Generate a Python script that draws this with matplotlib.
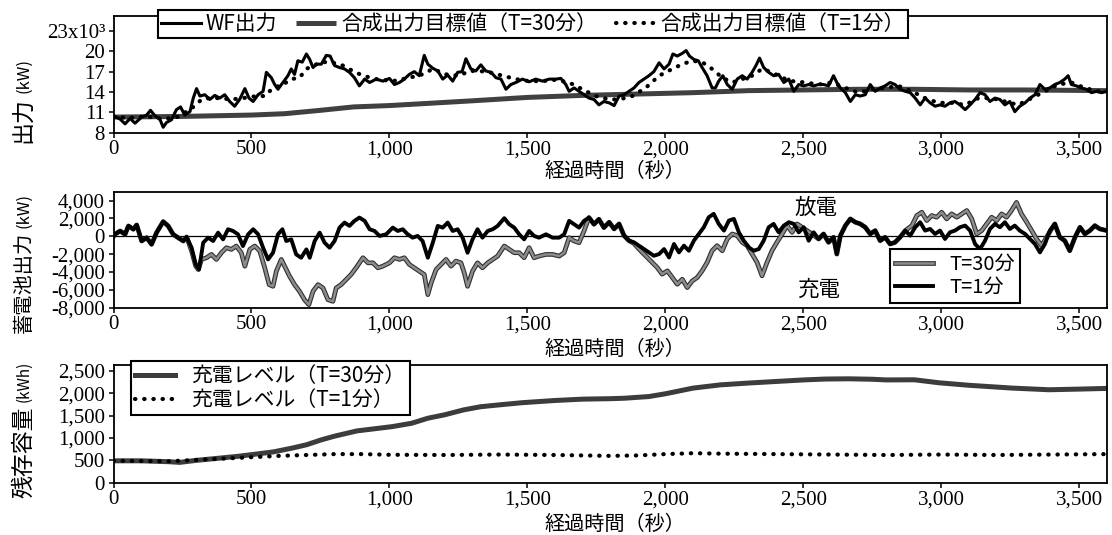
import matplotlib
matplotlib.use("Agg")
import matplotlib.pyplot as plt
import matplotlib.patheffects as pe

JP = ["Noto Sans CJK JP", "DejaVu Sans"]
SERIF = ["Liberation Serif", "DejaVu Serif"]
plt.rcParams["font.family"] = JP

# ---------------- data ----------------
# Wind farm output (x10^3 kW)
wf_t = [0, 24, 42, 60, 78, 102, 120, 134, 150, 168, 180, 192, 210, 228, 243, 258, 277, 289, 301, 313,
        331, 349, 367, 385, 403, 421, 439, 457, 476, 491, 506, 524, 542, 554, 572, 584, 596, 614, 632, 644,
        656, 668, 684, 699, 711, 723, 735, 753, 771, 785, 801, 819, 837, 855, 873, 891, 910, 928, 952, 976,
        1000, 1018, 1036, 1054, 1072, 1090, 1108, 1126, 1139, 1157, 1175, 1193, 1211, 1229, 1247, 1263, 1277, 1295, 1313, 1331,
        1349, 1368, 1386, 1404, 1422, 1440, 1458, 1482, 1506, 1530, 1555, 1579, 1603, 1621, 1639, 1651, 1669, 1687, 1705, 1723,
        1741, 1759, 1777, 1796, 1814, 1832, 1850, 1868, 1886, 1904, 1922, 1940, 1958, 1977, 1995, 2013, 2027, 2043, 2061, 2075,
        2087, 2103, 2119, 2133, 2151, 2169, 2181, 2193, 2208, 2224, 2242, 2260, 2278, 2296, 2314, 2328, 2341, 2356, 2374, 2392,
        2410, 2429, 2447, 2465, 2483, 2501, 2519, 2537, 2555, 2573, 2591, 2609, 2621, 2634, 2652, 2670, 2688, 2706, 2724, 2742,
        2760, 2778, 2796, 2814, 2832, 2850, 2869, 2887, 2905, 2923, 2941, 2959, 2977, 2995, 3013, 3031, 3049, 3067, 3086, 3104,
        3122, 3140, 3158, 3176, 3194, 3212, 3230, 3248, 3266, 3284, 3303, 3321, 3339, 3357, 3375, 3393, 3411, 3429, 3447, 3459,
        3471, 3489, 3507, 3525, 3544, 3562, 3580, 3600]
wf_v = [10.5, 10.0, 9.3, 10.1, 9.4, 10.3, 10.6, 11.3, 10.5, 10.0, 8.8, 9.5, 9.9, 11.4, 11.8, 10.6, 11.1, 13.1, 14.5, 13.4,
        13.6, 12.9, 13.5, 13.1, 13.6, 12.6, 11.9, 12.9, 14.5, 13.1, 12.6, 13.6, 14.1, 16.9, 16.1, 15.1, 14.4, 15.4, 16.4, 17.4,
        16.6, 18.6, 18.4, 19.6, 18.8, 17.6, 18.1, 18.1, 19.4, 19.3, 17.9, 17.6, 17.4, 16.9, 16.1, 14.9, 15.9, 15.4, 15.9, 15.6,
        16.0, 15.1, 15.4, 15.9, 16.6, 17.0, 16.4, 19.4, 18.1, 17.5, 17.1, 15.9, 16.5, 15.6, 16.9, 17.0, 18.9, 17.4, 17.1, 18.0,
        17.1, 16.9, 16.1, 15.9, 14.4, 15.1, 15.4, 15.9, 15.5, 15.9, 15.6, 15.9, 15.9, 16.0, 15.1, 14.1, 14.6, 14.1, 13.6, 13.1,
        12.9, 12.1, 12.6, 12.4, 12.0, 13.4, 13.6, 14.1, 14.6, 15.4, 15.9, 16.4, 17.0, 18.3, 17.4, 18.1, 19.6, 19.3, 19.7, 20.1,
        19.3, 18.8, 18.6, 17.6, 16.4, 14.6, 14.6, 15.6, 16.4, 15.1, 14.4, 15.9, 16.4, 15.9, 16.9, 17.9, 19.0, 17.6, 16.9, 16.4,
        16.6, 15.4, 15.9, 14.1, 15.1, 14.9, 15.1, 14.9, 15.1, 15.1, 14.9, 16.4, 15.4, 14.6, 13.9, 12.6, 13.6, 13.4, 13.6, 15.1,
        14.1, 14.6, 14.9, 15.4, 15.1, 14.4, 14.1, 13.9, 13.1, 12.1, 13.1, 12.4, 11.9, 12.1, 11.9, 12.4, 12.6, 12.1, 11.4, 12.1,
        12.9, 13.9, 13.6, 12.6, 13.1, 12.9, 12.1, 12.6, 11.1, 11.9, 12.4, 13.1, 13.6, 15.1, 14.4, 14.6, 15.1, 15.4, 15.9, 16.4,
        15.1, 14.9, 14.6, 14.4, 13.9, 14.1, 13.9, 14.1]

# Combined output target, T=30 min
tgt30_t = [0, 250, 500, 620, 750, 870, 1000, 1130, 1300, 1500, 1700, 1900, 2100, 2300, 2500, 2700, 2900, 3100, 3300, 3600]
tgt30_v = [10.3, 10.4, 10.6, 10.8, 11.3, 11.8, 12.0, 12.3, 12.7, 13.2, 13.5, 13.7, 13.9, 14.2, 14.3, 14.4, 14.4, 14.3, 14.3, 14.2]

# Combined output target, T=1 min
tgt1_t = [0, 60, 120, 180, 230, 277, 298, 319, 349, 385, 427, 470, 518, 548, 578, 614, 644, 674, 699, 723,
          759, 789, 831, 867, 904, 952, 1012, 1072, 1120, 1157, 1205, 1253, 1289, 1325, 1362, 1410, 1458, 1506, 1555, 1603,
          1651, 1699, 1747, 1796, 1832, 1880, 1928, 1977, 2025, 2061, 2097, 2133, 2169, 2206, 2242, 2278, 2314, 2350, 2386, 2423,
          2459, 2507, 2555, 2603, 2652, 2700, 2748, 2796, 2844, 2893, 2941, 2989, 3037, 3086, 3134, 3182, 3230, 3278, 3327, 3375,
          3423, 3471, 3519, 3568, 3600]
tgt1_v = [10.3, 10.2, 10.4, 10.0, 10.3, 11.4, 12.1, 12.9, 13.1, 13.1, 12.9, 13.1, 13.4, 13.4, 14.6, 15.1, 15.9, 16.1, 17.4, 17.9,
          18.4, 18.4, 17.9, 17.1, 16.4, 15.9, 15.6, 16.1, 16.6, 17.4, 16.6, 16.4, 17.1, 17.1, 16.9, 16.4, 15.9, 15.6, 15.6, 15.8,
          15.4, 14.4, 13.4, 12.9, 12.9, 13.4, 14.6, 16.4, 17.4, 18.1, 18.6, 18.4, 17.4, 16.1, 15.4, 15.9, 16.4, 17.4, 16.9, 16.1,
          15.6, 15.4, 15.1, 15.4, 14.6, 13.9, 14.4, 14.6, 14.9, 14.1, 13.1, 12.4, 12.4, 12.1, 13.1, 13.1, 12.6, 12.1, 13.1, 14.1,
          15.1, 15.4, 14.6, 14.1, 14.1]

# Battery output (kW), T=1 min
bat1_t = [0, 5, 24, 42, 54, 72, 84, 102, 120, 138, 156, 180, 198, 216, 234, 253, 265, 283, 298, 310,
          325, 343, 361, 379, 397, 415, 433, 451, 469, 488, 506, 524, 542, 560, 578, 596, 612, 626, 644, 662,
          680, 699, 711, 729, 747, 765, 783, 801, 819, 837, 855, 873, 891, 910, 928, 946, 964, 988, 1012, 1030,
          1048, 1066, 1084, 1102, 1120, 1139, 1157, 1175, 1193, 1211, 1229, 1247, 1265, 1283, 1301, 1319, 1337, 1356, 1374, 1392,
          1416, 1434, 1452, 1470, 1488, 1506, 1524, 1542, 1567, 1591, 1615, 1633, 1651, 1669, 1687, 1705, 1723, 1741, 1759, 1777,
          1796, 1814, 1832, 1850, 1868, 1886, 1904, 1922, 1940, 1958, 1977, 1995, 2013, 2031, 2049, 2067, 2085, 2103, 2121, 2139,
          2157, 2175, 2193, 2212, 2230, 2248, 2266, 2284, 2302, 2320, 2338, 2356, 2374, 2392, 2410, 2429, 2447, 2465, 2483, 2501,
          2519, 2537, 2555, 2573, 2591, 2609, 2621, 2634, 2652, 2670, 2688, 2706, 2724, 2742, 2760, 2778, 2796, 2814, 2832, 2850,
          2869, 2887, 2905, 2923, 2941, 2959, 2977, 2995, 3013, 3031, 3049, 3067, 3086, 3104, 3122, 3140, 3158, 3176, 3194, 3212,
          3230, 3248, 3266, 3284, 3303, 3321, 3339, 3357, 3375, 3393, 3411, 3429, 3447, 3465, 3484, 3502, 3520, 3538, 3556, 3574,
          3600]
bat1_v = [0, 225, 600, 225, 1165, 790, 1275, -525, -150, -900, 410, 1650, 1165, 225, -150, -525, -75, -1275, -3155, -3720,
          -715, -150, -525, 410, -340, 790, 600, 225, -1090, 225, 790, 225, -1275, -2590, -1840, 225, 790, -525, -340, -2030,
          -2400, -1465, -2400, -525, 410, -715, -1275, -525, 975, 1540, 1165, 1730, 2100, 1730, 790, 600, 40, 225, 975, 600,
          790, 225, -150, 40, -525, -2400, -715, 1165, 975, 1540, 600, 790, -150, -1840, -340, 790, -150, 600, 790, 1165,
          2030, 1350, 975, 225, -340, 600, 40, -150, 225, -150, -150, 225, 1730, 1350, 975, 1730, 2100, 1350, 1915, 975,
          1580, 825, 1390, 75, -490, -675, -1050, -1430, -1800, -2180, -1990, -1430, -2370, -865, -1800, -1050, -1615, -490, 265, 1015,
          2140, 2515, 1390, 640, 1765, 1950, 450, -490, -1240, -1615, -1430, -490, 1015, 1390, 450, 1200, 1580, 1390, 450, 1015,
          -490, 450, -300, 265, -675, -110, -1990, 75, 1200, 1950, 1580, 1390, 1015, 265, 640, -490, -110, -865, -675, -110,
          640, 75, 1015, 1580, 640, 825, 265, 640, -300, 450, 640, 1015, 1200, 640, -865, -1430, -490, 825, 1390, 1015,
          1580, 825, 1200, 640, 265, -300, -865, -1800, -865, 640, 1390, -110, -490, -1615, -110, 1015, 265, 640, 1200, 825,
          640]

# Battery output (kW), T=30 min
bat30_t = [0, 5, 24, 42, 54, 72, 84, 102, 120, 138, 156, 180, 198, 216, 234, 253, 265, 283, 298, 307,
           319, 337, 355, 373, 391, 409, 427, 445, 463, 476, 494, 512, 530, 548, 564, 578, 590, 608, 620, 638,
           656, 674, 692, 708, 723, 741, 759, 777, 795, 807, 825, 843, 861, 879, 904, 922, 940, 958, 976, 1000,
           1018, 1036, 1054, 1072, 1090, 1108, 1126, 1139, 1151, 1169, 1187, 1205, 1223, 1241, 1259, 1271, 1283, 1301, 1319, 1337,
           1356, 1374, 1392, 1416, 1434, 1452, 1470, 1488, 1506, 1524, 1542, 1567, 1591, 1615, 1633, 1651, 1669, 1687, 1705, 1723,
           1741, 1759, 1777, 1796, 1814, 1832, 1850, 1868, 1886, 1904, 1928, 1952, 1970, 1988, 2007, 2025, 2043, 2061, 2079, 2097,
           2115, 2133, 2151, 2169, 2187, 2206, 2224, 2242, 2260, 2278, 2296, 2314, 2332, 2350, 2368, 2386, 2404, 2423, 2441, 2459,
           2477, 2495, 2513, 2531, 2555, 2573, 2591, 2609, 2621, 2634, 2652, 2670, 2688, 2706, 2724, 2742, 2760, 2778, 2796, 2814,
           2832, 2850, 2869, 2893, 2911, 2929, 2947, 2965, 2983, 3001, 3019, 3037, 3056, 3074, 3092, 3110, 3128, 3146, 3164, 3182,
           3200, 3218, 3236, 3254, 3272, 3290, 3309, 3327, 3345, 3363, 3381, 3399, 3411, 3429, 3447, 3465, 3484, 3502, 3520, 3538,
           3556, 3574, 3600]
bat30_v = [0, 225, 600, 225, 1165, 790, 1275, -525, -150, -900, 410, 1650, 1165, 225, -150, -525, -75, -1650, -3345, -3720,
           -2590, -2400, -2030, -2590, -1840, -1275, -1465, -1090, -1840, -3345, -1465, -1090, -1650, -3530, -5410, -5600, -3910, -2590, -3345, -4470,
           -5410, -6160, -7100, -7660, -6160, -5410, -5785, -7100, -7290, -5785, -5410, -4845, -4280, -3530, -2400, -2970, -2970, -3530, -3345, -2970,
           -2400, -2590, -2400, -3155, -3530, -3910, -4280, -6535, -5220, -3720, -3155, -2590, -3345, -2780, -2970, -4095, -5600, -3910, -2970, -3530,
           -2970, -2590, -2215, -1090, -1465, -1840, -1840, -2400, -1275, -2400, -2215, -2030, -2030, -2215, -1840, -150, -525, -715, 600, 2100,
           1350, 1915, 975, 1580, 825, 1390, 75, -490, -800, -1430, -2180, -2930, -3490, -4240, -3870, -4620, -5370, -4810, -5745, -5000,
           -4620, -3870, -2930, -1615, -1050, -1615, -300, 265, 75, -675, -1050, -1990, -2930, -4430, -2930, -1615, -675, 265, 1200, 450,
           1390, 1015, 640, 265, -300, 265, -675, -110, -1990, 75, 1200, 1950, 1580, 1390, 1015, 265, 640, -490, -110, -865,
           -675, -110, 640, 1200, 2330, 2700, 1765, 2330, 2140, 2700, 1950, 2515, 2140, 2515, 2890, 1950, 265, 640, 1390, 2140,
           1765, 2515, 2140, 2890, 3800, 2515, 1580, 640, -300, -1050, -110, 825, 1390, -110, -490, -1615, -110, 1015, 265, 640,
           1200, 825, 640]

# Remaining battery capacity (kWh)
cap30_t = [0, 100, 200, 240, 300, 390, 450, 520, 580, 650, 700, 752, 800, 882, 950, 1011, 1080, 1140, 1200, 1269,
           1330, 1398, 1480, 1542, 1600, 1700, 1800, 1850, 1940, 2000, 2100, 2200, 2300, 2400, 2500, 2580, 2664, 2750, 2800, 2902,
           2993, 3100, 3200, 3257, 3390, 3500, 3600]
cap30_v = [490, 490, 470, 455, 500, 553, 590, 643, 690, 778, 850, 957, 1040, 1159, 1210, 1256, 1330, 1444, 1520, 1630,
           1700, 1742, 1790, 1816, 1840, 1870, 1880, 1890, 1928, 1990, 2117, 2190, 2230, 2265, 2300, 2320, 2325, 2315, 2300, 2303,
           2235, 2180, 2140, 2117, 2080, 2095, 2110]
cap1_t = [0, 200, 300, 400, 500, 600, 700, 800, 900, 1000, 1200, 1400, 1600, 1800, 1900, 2000, 2100, 2200, 2400, 2600,
          2800, 3000, 3200, 3400, 3600]
cap1_v = [490, 480, 510, 540, 570, 600, 620, 640, 640, 625, 620, 630, 620, 600, 610, 640, 660, 650, 640, 630,
          620, 630, 620, 630, 640]

x_ticks = [0, 500, 1000, 1500, 2000, 2500, 3000, 3500]
x_labels = ["0", "500", "1,000", "1,500", "2,000", "2,500", "3,000", "3,500"]
p1_ticks = [8, 11, 14, 17, 20, 23]
p1_labels = ["8", "11", "14", "17", "20", "23x10³"]
p2_ticks = [-8000, -6000, -4000, -2000, 0, 2000, 4000]
p2_labels = ["-8,000", "-6,000", "-4,000", "-2,000", "0", "2,000", "4,000"]
p3_ticks = [0, 500, 1000, 1500, 2000, 2500]
p3_labels = ["0", "500", "1,000", "1,500", "2,000", "2,500"]

xlabel_text = "経過時間（秒）"

# ---------------- figure ----------------
W, H = 1112, 535
fig = plt.figure(figsize=(W / 100, H / 100), dpi=100)


def px_axes(left, top, right, bottom):
    return fig.add_axes([left / W, 1 - bottom / H, (right - left) / W, (bottom - top) / H])


ax1 = px_axes(113.5, 16, 1107, 132.7)
ax2 = px_axes(113.5, 191.7, 1107, 307.7)
ax3 = px_axes(113.5, 365, 1107, 482.7)


def style_axis(ax, yticks, ylabels, ylim, label_y):
    ax.set_xlim(0, 3600)
    ax.set_ylim(*ylim)
    ax.set_xticks(x_ticks)
    ax.set_xticklabels(x_labels, fontfamily=SERIF, fontsize=15)
    ax.set_yticks(yticks)
    ax.set_yticklabels(ylabels, fontfamily=SERIF, fontsize=15)
    ax.tick_params(direction="out", length=3.6, width=1.1, pad=2.5, colors="black")
    ax.tick_params(axis="x", pad=2.0)
    for s in ax.spines.values():
        s.set_linewidth(1.3)
    ax.set_xlabel(xlabel_text, fontsize=14.5, fontfamily=JP)
    ax.xaxis.set_label_coords(0.505, label_y)
    ax.xaxis.label.set_va("center")


style_axis(ax1, p1_ticks, p1_labels, (8, 25.2), -0.335)
style_axis(ax2, p2_ticks, p2_labels, (-8000, 5000), -0.36)
style_axis(ax3, p3_ticks, p3_labels, (0, 2634), -0.355)

dot_style = dict(color="black", lw=3.0, linestyle=(0, (0.1, 2.1)), dash_capstyle="round")

# panel 1: output
l30, = ax1.plot(tgt30_t, tgt30_v, color="#404040", lw=3.6, solid_capstyle="butt")
lwf, = ax1.plot(wf_t, wf_v, color="black", lw=2.2)
l1, = ax1.plot(tgt1_t, tgt1_v, **dot_style)
leg1 = ax1.legend([lwf, l30, l1],
                  ["WF出力", "合成出力目標値（T=30分）", "合成出力目標値（T=1分）"],
                  loc="upper left", bbox_to_anchor=(158 / W, 1 - 10 / H), bbox_transform=fig.transFigure,
                  ncol=3, fontsize=15, handlelength=1.9, handletextpad=0.25, columnspacing=0.9,
                  borderpad=0.15, borderaxespad=0, frameon=True, fancybox=False, framealpha=1,
                  edgecolor="black")
leg1.get_frame().set_linewidth(1.5)

# panel 2: battery output
ax2.axhline(0, color="black", lw=0.9, zorder=1)
gray_fx = [pe.Stroke(linewidth=3.4, foreground="#303030"), pe.Normal()]
b30, = ax2.plot(bat30_t, bat30_v, color="#8c8c8c", lw=1.8, path_effects=gray_fx)
b1, = ax2.plot(bat1_t, bat1_v, color="black", lw=2.8)
ax2.text(2546, 3180, "放電", fontsize=15.5, ha="center", va="center")
ax2.text(2555, -6000, "充電", fontsize=15.5, ha="center", va="center")
leg2 = ax2.legend([b30, b1], ["T=30分", "T=1分"],
                  loc="upper left", bbox_to_anchor=(890 / W, 1 - 248.7 / H), bbox_transform=fig.transFigure,
                  fontsize=14.5, handlelength=1.9, handletextpad=0.8, labelspacing=0.12,
                  borderpad=0.25, borderaxespad=0, frameon=True, fancybox=False, framealpha=1,
                  edgecolor="black")
leg2.get_frame().set_linewidth(1.5)

# panel 3: remaining capacity
c30, = ax3.plot(cap30_t, cap30_v, color="#3c3c3c", lw=3.6)
c1, = ax3.plot(cap1_t, cap1_v, **dot_style)
leg3 = ax3.legend([c30, c1], ["充電レベル（T=30分）", "充電レベル（T=1分）"],
                  loc="upper left", bbox_to_anchor=(131 / W, 1 - 361 / H), bbox_transform=fig.transFigure,
                  fontsize=15, handlelength=1.9, handletextpad=0.8, labelspacing=0.08,
                  borderpad=0.2, borderaxespad=0, frameon=True, fancybox=False, framealpha=1,
                  edgecolor="black")
leg3.get_frame().set_linewidth(1.5)


# y-axis titles: Japanese part and unit part stacked vertically
def ylabel_parts(cjk, unit, cjk_bottom, unit_bottom, cjk_size, unit_size):
    fig.text(24 / W, 1 - cjk_bottom / H, cjk, rotation=90, ha="center", va="bottom",
             fontsize=cjk_size, fontfamily=JP)
    fig.text(24 / W, 1 - unit_bottom / H, unit, rotation=90, ha="center", va="bottom",
             fontsize=unit_size, fontfamily=JP)


ylabel_parts("出力", "(kW)", 143, 93, 16.5, 12)
ylabel_parts("蓄電池出力", "(kW)", 333, 228, 14.6, 12)
ylabel_parts("残存容量", "(kWh)", 498, 402, 16.5, 11)

fig.savefig("out.png", dpi=100)
